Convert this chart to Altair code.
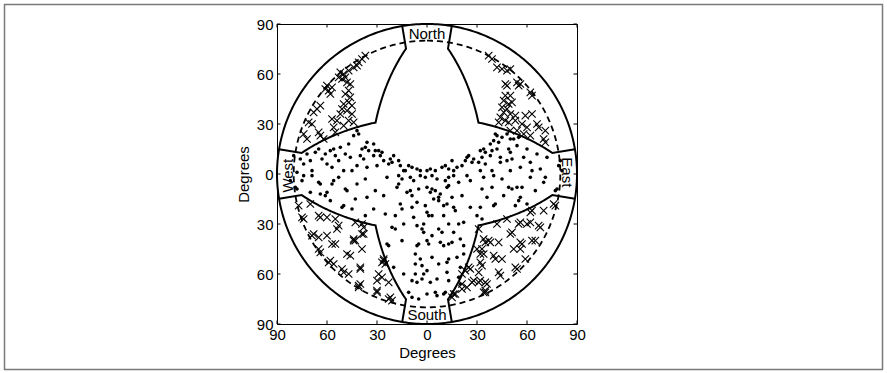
import altair as alt
import numpy as np
import pandas as pd

# ---------------- chart values ----------------
tick_vals = [-90, -60, -30, 0, 30, 60, 90]
outer_radius = 90      # horizon circle (deg)
dashed_radius = 80     # dashed reference circle (deg)
tilt_limit = 34        # sector inner boundary tilt (deg)
cut_azimuth = 9.5      # sector side cut from the N-S / E-W axes (deg)

label_text = ["North", "South"]
label_x = [0, 0]
label_y = [84.3, -84.6]
side_text = ["West", "East"]
side_x = [-83.6, 84.0]
side_y = [-1.0, 1.0]

# dots: observations inside the cross-shaped region (x, y in degrees)
dots_upper_center = [(-29,14),(-27,13),(-28,11),(-26,8),(-22,9),(-21,7),(-23,6),(-20,11),(-17,8),(-16,5),
    (-14,2),(-13,2),(-11,5),(-9,4),(-6,3),(-4,2),(0,2),(2,3),(5,2),(9,4),(11,5),(13,3),(15,8),(16,2),
    (18,4),(21,5),(23,8),(24,10),(25,11),(27,7),(28,9)]
dots_upper_left = [(-42,26),(-41,24),(-44,23),(-36,19),(-37,16),(-32,18),(-39,15),(-35,14),(-40,11),(-38,9),
    (-32,11),(-31,14),(-58,14),(-56,15),(-55,11),(-49,12),(-46,10),(-67,13),(-65,15),(-61,12),(-70,8),
    (-76,9),(-74,6),(-60,6),(-57,4),(-53,8),(-50,2),(-45,2),(-42,5),(-36,4),(-30,5),(-69,2),(-78,1),
    (-47,18),(-52,16),(-63,9),(-80,11),(-72,12)]
dots_upper_right = [(41,24),(42,23),(45,22),(48,24),(50,21),(52,21),(55,22),(40,20),(38,18),(43,19),(34,15),
    (32,14),(35,13),(39,14),(42,15),(38,11),(44,10),(50,13),(49,15),(48,8),(51,9),(33,10),(31,7),(35,6),
    (44,7),(58,10),(62,7),(56,4),(63,2),(68,3),(50,2),(39,2),(32,2),(80,8),(79,5),(81,2),
    (60,15),(66,12),(72,10),(54,17)]
dots_lower_left = [(-79,-8),(-78,-9),(-74,-1),(-69,-1),(-65,-5),(-64,-6),(-60,-11),(-61,-13),(-56,-4),(-57,-6),
    (-53,-2),(-49,-9),(-48,-10),(-50,-19),(-51,-20),(-43,-15),(-42,-6),(-37,-3),(-36,-14),(-32,-21),
    (-37,-25),(-70,-11),(-75,-4),(-58,-16),(-64,-12),(-45,-21),(-31,-10),(-82,-4)]
dots_lower_right = [(34,-2),(40,-1),(45,-3),(39,-8),(33,-9),(49,-8),(51,-9),(54,-8),(57,-8),(56,-14),(55,-16),
    (41,-18),(40,-19),(32,-20),(53,-19),(60,-18),(71,-2),(70,-5),(62,-2),(77,-10),(78,-9),(33,-27),(30,-25),
    (46,-13),(65,-10),(36,-14)]
dots_south_arm = [(-24,-2),(-17,-1),(-15,-3),(-10,-2),(-8,-4),(-4,-1),(-1,-2),(3,-1),(6,-3),(11,-4),(13,-2),
    (16,-1),(19,-5),(24,-1),(26,-4),(-26,-13),(-18,-8),(-17,-6),(-12,-11),(-10,-10),(-9,-13),(-5,-9),(0,-8),
    (2,-11),(3,-9),(5,-10),(7,-14),(8,-12),(12,-8),(13,-7),(15,-14),(21,-13),(-16,-18),(-15,-21),(-9,-20),
    (-6,-17),(-1,-19),(4,-15),(7,-16),(10,-19),(12,-18),(16,-20),(17,-22),(26,-20),(-25,-24),(-19,-25),
    (-8,-26),(0,-23),(1,-25),(3,-25),(10,-25),(19,-30),(22,-29),(-21,-32),(-19,-33),(-14,-30),(-6,-31),
    (-3,-33),(-2,-30),(-2,-35),(7,-33),(9,-35),(13,-30),(16,-35),(3,-37),(-24,-42),(-23,-43),(-15,-40),
    (-6,-43),(-5,-42),(0,-40),(1,-42),(8,-41),(10,-43),(13,-42),(15,-41),(20,-39),(22,-43),(-7,-48),
    (-4,-51),(3,-50),(7,-54),(12,-53),(13,-51),(18,-50),(22,-48),(-7,-54),(-3,-55),(-20,-56),(-14,-60),
    (-7,-60),(-2,-60),(0,-58),(12,-59),(20,-56),(-9,-64),(-6,-65),(-3,-63),(2,-65),(6,-63),(13,-64),
    (19,-62),(20,-66),(-11,-71),(-9,-74),(-5,-75),(0,-72),(5,-71),(6,-73),(10,-72),(11,-71)]

# crosses: observations inside the four diagonal sectors
crosses_nw = [(-37,71),(-39,69),(-41,67),(-42,65),(-44,64),(-47,62),(-50,60),(-52,61),(-53,58),(-51,57),
    (-49,58),(-48,55),(-46,54),(-60,53),(-61,51),(-59,50),(-57,52),(-58,48),(-47,50),(-49,48),(-46,46),
    (-47,43),(-50,42),(-45,41),(-51,39),(-48,38),(-52,36),(-45,36),(-57,33),(-54,32),(-47,32),(-44,31),
    (-50,29),(-66,39),(-64,41),(-68,37),(-71,31),(-69,30),(-74,24),(-72,21),(-65,25),(-64,23),(-62,21),
    (-55,25),(-56,28)]
crosses_ne = [(37,71),(39,69),(42,64),(45,63),(48,62),(50,63),(47,54),(48,53),(54,55),(56,54),(55,53),(62,49),
    (63,47),(47,47),(50,47),(46,44),(49,42),(51,43),(45,40),(48,39),(46,37),(50,36),(53,35),(44,34),(47,32),
    (49,31),(53,32),(43,31),(59,35),(63,36),(57,30),(60,28),(66,30),(67,28),(71,26),(70,21),(71,19),(58,24),
    (62,23),(50,26),(54,26)]
crosses_sw = [(-77,-19),(-70,-18),(-75,-26),(-74,-27),(-65,-25),(-64,-26),(-60,-26),(-55,-27),(-53,-31),
    (-54,-33),(-68,-36),(-65,-38),(-60,-37),(-43,-29),(-39,-30),(-38,-36),(-44,-39),(-43,-40),(-39,-45),
    (-57,-42),(-55,-42),(-65,-45),(-64,-47),(-69,-37),(-48,-48),(-46,-49),(-58,-52),(-59,-53),(-56,-54),
    (-51,-57),(-50,-59),(-47,-60),(-40,-56),(-40,-66),(-41,-68),(-30,-71),(-30,-64),(-30,-70),(-27,-62),
    (-26,-52),(-27,-53),(-25,-54),(-23,-75),(-21,-76),(-38,-32),(-39,-36),(-44,-40),(-40,-57),(-41,-67),
    (-26,-51),(-29,-60),(-23,-65),(-22,-74)]
crosses_se = [(77,-19),(76,-18),(70,-22),(63,-22),(62,-23),(55,-30),(56,-29),(60,-30),(62,-29),(67,-31),
    (68,-32),(51,-35),(50,-36),(42,-30),(48,-27),(34,-39),(37,-40),(43,-41),(56,-41),(57,-42),(63,-40),
    (65,-40),(52,-45),(56,-45),(30,-45),(34,-48),(40,-49),(41,-51),(45,-51),(59,-51),(53,-56),(54,-57),
    (32,-53),(33,-55),(43,-59),(44,-61),(32,-64),(35,-65),(34,-71),(35,-70),(31,-59),(23,-58),(21,-60),
    (26,-57),(27,-65),(24,-68),(21,-69),(17,-72),(28,-64),(31,-33),(33,-45),(32,-48),(35,-41),(38,-41),
    (25,-56),(21,-66),(16,-72),(15,-74),(35,-71),(36,-66),(31,-65)]

# ---------------- geometry (reference curves) ----------------
def circle(r, name):
    t = np.linspace(0, 2 * np.pi, 361)
    return pd.DataFrame({"x": r * np.sin(t), "y": r * np.cos(t), "path": name, "i": np.arange(len(t))})

def sector(sx, sy, name):
    T = np.tan(np.radians(tilt_limit))
    a = np.radians(cut_azimuth)
    p1 = np.linspace(a, np.pi / 4, 60)
    th1 = np.degrees(np.arctan(T / np.sin(p1)))
    p2 = np.linspace(np.pi / 4, np.pi / 2 - a, 60)
    th2 = np.degrees(np.arctan(T / np.cos(p2)))
    u = np.concatenate([[outer_radius * np.sin(a)], th1 * np.sin(p1), th2 * np.sin(p2), [outer_radius * np.cos(a)]])
    v = np.concatenate([[outer_radius * np.cos(a)], th1 * np.cos(p1), th2 * np.cos(p2), [outer_radius * np.sin(a)]])
    return pd.DataFrame({"x": sx * u, "y": sy * v, "path": name, "i": np.arange(len(u))})

solid_df = pd.concat([circle(outer_radius, "outer"),
                      sector(-1, 1, "nw"), sector(1, 1, "ne"),
                      sector(-1, -1, "sw"), sector(1, -1, "se")], ignore_index=True)
dashed_df = circle(dashed_radius, "dashed")

dots = dots_upper_center + dots_upper_left + dots_upper_right + dots_lower_left + dots_lower_right + dots_south_arm
crosses = crosses_nw + crosses_ne + crosses_sw + crosses_se
dots_df = pd.DataFrame(dots, columns=["x", "y"])
cross_df = pd.DataFrame(crosses, columns=["x", "y"])
ticks_df = pd.DataFrame({"x": tick_vals, "y": tick_vals})
lab_df = pd.DataFrame({"x": label_x, "y": label_y, "text": label_text})
west_df = pd.DataFrame({"x": [side_x[0]], "y": [side_y[0]], "text": [side_text[0]]})
east_df = pd.DataFrame({"x": [side_x[1]], "y": [side_y[1]], "text": [side_text[1]]})

FONT = "Liberation Sans"
xs = alt.Scale(domain=[-90, 90], nice=False, zero=False)
ys = alt.Scale(domain=[-90, 90], nice=False, zero=False)

x_axis = alt.Axis(values=tick_vals, labelExpr="abs(datum.value)", ticks=False, domain=False, grid=False,
                  labelFlush=False, labelOverlap=False, labelFont=FONT, labelFontSize=15, labelColor="black",
                  labelPadding=3, title="Degrees", titleFont=FONT, titleFontSize=15,
                  titleFontWeight="normal", titleColor="black", titlePadding=3)
y_axis = alt.Axis(values=tick_vals, labelExpr="abs(datum.value)", ticks=False, domain=False, grid=False,
                  labelFlush=False, labelOverlap=False, labelFont=FONT, labelFontSize=15, labelColor="black",
                  labelPadding=4, title="Degrees", titleFont=FONT, titleFontSize=15,
                  titleFontWeight="normal", titleColor="black", titlePadding=5)

def X():
    return alt.X("x:Q", scale=xs, axis=x_axis, title="Degrees")

def Y():
    return alt.Y("y:Q", scale=ys, axis=y_axis, title="Degrees")

frame = alt.Chart(pd.DataFrame({"k": [0]})).mark_rect(fillOpacity=0, stroke="#7a7a7a", strokeWidth=1.5).encode(
    x=alt.value(-272.5), x2=alt.value(605.5), y=alt.value(-19.5), y2=alt.value(345.5))

solid = alt.Chart(solid_df).mark_line(color="black", strokeWidth=2).encode(
    x=X(), y=Y(), detail="path:N", order="i:Q")
dashed = alt.Chart(dashed_df).mark_line(color="black", strokeWidth=1.8, strokeDash=[6, 4]).encode(
    x=X(), y=Y(), detail="path:N", order="i:Q")

dot_layer = alt.Chart(dots_df).mark_point(shape="circle", filled=True, color="black", size=13, opacity=1).encode(
    x=X(), y=Y())
cross_layer = alt.Chart(cross_df).mark_point(shape="M-1,-1L1,1M1,-1L-1,1", filled=False, color="black",
                                              strokeWidth=1.1, size=55, opacity=1).encode(x=X(), y=Y())

tick_bottom = alt.Chart(ticks_df).mark_rule(color="black", strokeWidth=1).encode(
    x=X(), y=alt.value(300), y2=alt.value(296.5))
tick_top = alt.Chart(ticks_df).mark_rule(color="black", strokeWidth=1).encode(
    x=X(), y=alt.value(0), y2=alt.value(3.5))
tick_left = alt.Chart(ticks_df).mark_rule(color="black", strokeWidth=1).encode(
    y=Y(), x=alt.value(0), x2=alt.value(3.5))
tick_right = alt.Chart(ticks_df).mark_rule(color="black", strokeWidth=1).encode(
    y=Y(), x=alt.value(300), x2=alt.value(296.5))

labels = alt.Chart(lab_df).mark_text(font=FONT, fontSize=15, color="black", baseline="middle", align="center").encode(
    x=X(), y=Y(), text="text:N")
west = alt.Chart(west_df).mark_text(font=FONT, fontSize=15, color="black", baseline="middle", align="center",
                                    angle=270).encode(x=X(), y=Y(), text="text:N")
east = alt.Chart(east_df).mark_text(font=FONT, fontSize=15, color="black", baseline="middle", align="center",
                                    angle=90).encode(x=X(), y=Y(), text="text:N")

chart = alt.layer(frame, solid, dashed, dot_layer, cross_layer, tick_bottom, tick_top, tick_left, tick_right,
                  labels, west, east).properties(
    width=300, height=300,
    autosize=alt.AutoSizeParams(type="none"),
    padding={"left": 277, "top": 24, "right": 310, "bottom": 49},
    background="white",
).configure_view(stroke="black", strokeWidth=1)

chart.save("out.html", embed_options={"renderer": "svg", "actions": False})
